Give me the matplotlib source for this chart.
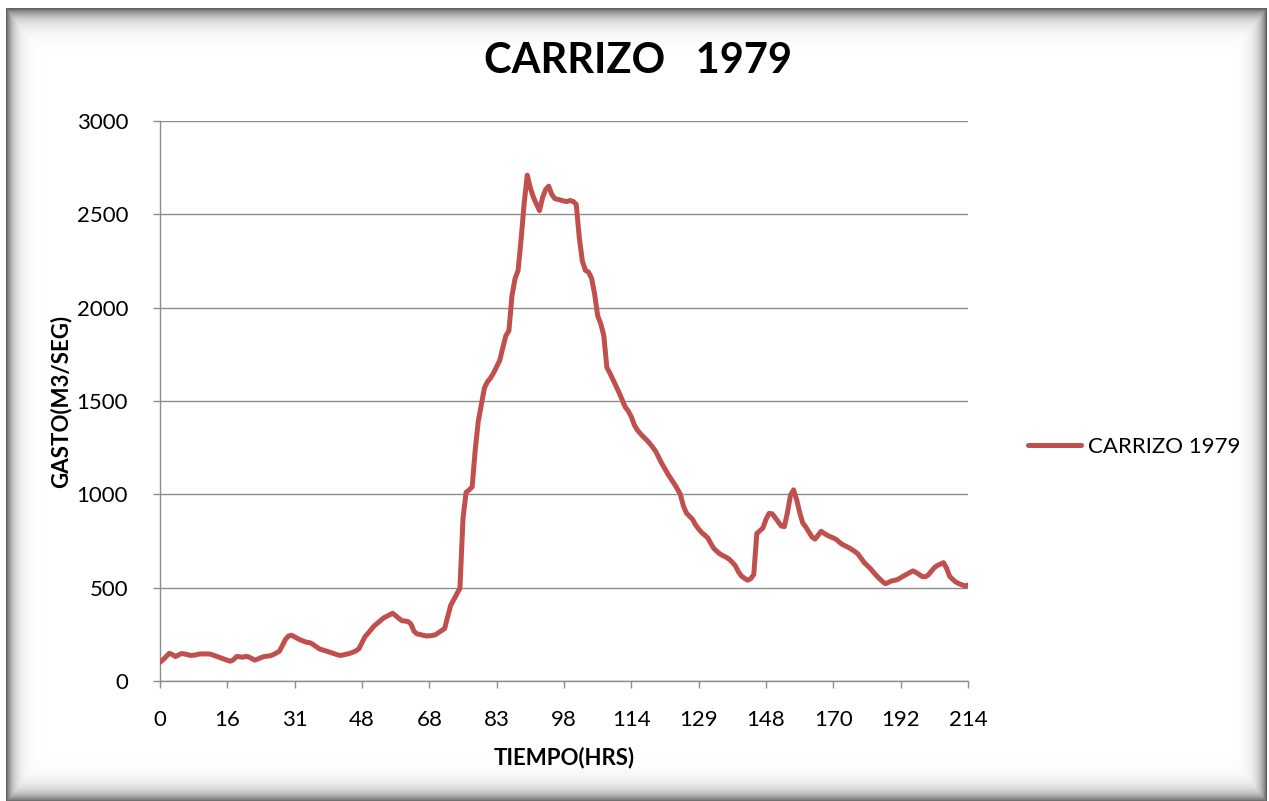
import numpy as np
import matplotlib
matplotlib.use('Agg')
import matplotlib.pyplot as plt

# Datos (gasto en m3/s por cada registro de tiempo)
etiquetas_tiempo = ['0', '16', '31', '48', '68', '83', '98', '114', '129',
                    '148', '170', '192', '214']
paso_etiqueta = 22  # cada etiqueta cubre 22 registros

gasto = [
    100, 114, 131, 148, 142, 131, 139, 147, 145, 141,
    137, 138, 141, 145, 145, 145, 145, 141, 135, 129,
    123, 117, 111, 106, 114, 131, 130, 127, 132, 129,
    120, 112, 118, 125, 131, 133, 135, 141, 150, 159,
    190, 223, 241, 245, 236, 227, 219, 213, 207, 205,
    196, 184, 173, 167, 162, 157, 151, 146, 140, 137,
    140, 144, 148, 154, 161, 173, 205, 238, 256, 276,
    296, 309, 323, 337, 346, 354, 363, 350, 336, 323,
    321, 319, 305, 266, 252, 249, 245, 241, 242, 244,
    248, 259, 270, 281, 345, 406, 436, 466, 497, 870,
    1010, 1024, 1040, 1240, 1392, 1481, 1570, 1603, 1623, 1651,
    1684, 1717, 1785, 1850, 1876, 2064, 2155, 2199, 2369, 2562,
    2710, 2642, 2592, 2555, 2520, 2590, 2633, 2651, 2607, 2584,
    2580, 2576, 2571, 2569, 2574, 2569, 2553, 2374, 2249, 2200,
    2191, 2158, 2074, 1957, 1915, 1851, 1680, 1649, 1615, 1580,
    1545, 1507, 1468, 1446, 1415, 1371, 1344, 1324, 1307, 1291,
    1273, 1252, 1229, 1196, 1164, 1135, 1107, 1082, 1057, 1030,
    1000, 938, 900, 883, 866, 836, 814, 795, 781, 766,
    736, 709, 694, 680, 671, 663, 652, 636, 617, 585,
    562, 550, 540, 548, 570, 790, 805, 820, 866, 898,
    896, 875, 852, 830, 827, 902, 995, 1024, 972, 903,
    847, 825, 799, 772, 760, 780, 802, 791, 781, 773,
    766, 758, 743, 731, 723, 715, 705, 694, 681, 659,
    636, 620, 604, 585, 566, 549, 534, 521, 528, 536,
    539, 544, 553, 563, 572, 581, 590, 582, 571, 560,
    558, 568, 588, 607, 619, 626, 634, 604, 561, 545,
    530, 522, 515, 509, 514,
]

FUENTE = ['Lato', 'DejaVu Sans']
plt.rcParams['font.family'] = FUENTE

W, H = 1269, 801
fig = plt.figure(figsize=(W / 100, H / 100), dpi=100)
fig.patch.set_facecolor('white')

# --- marco con sombra interior (estilo Excel) ---
bg = fig.add_axes([0, 0, 1, 1], zorder=-10)
yy, xx = np.mgrid[0:H, 0:W]
x0, x1, y0, y1 = 6, 1266, 8, 801
sombra = np.maximum.reduce([
    np.exp(-np.clip(xx - x0, 0, None) / 7.0),
    np.exp(-np.clip(x1 - xx, 0, None) / 7.0),
    np.exp(-np.clip(yy - y0, 0, None) / 9.0),
    np.exp(-np.clip(y1 - yy, 0, None) / 9.0),
])
gris = 1.0 - 0.62 * sombra
fuera = (xx < x0) | (xx > x1) | (yy < y0) | (yy > y1)
gris[fuera] = 1.0
bg.imshow(gris, cmap='gray', vmin=0, vmax=1, aspect='auto',
          interpolation='bilinear')
bg.axis('off')

# --- area de grafico ---
ax = fig.add_axes([160 / W, (H - 681) / H, 808 / W, 560 / H])
ax.set_facecolor('none')

x = np.arange(len(gasto))
ax.plot(x, gasto, color='#C0504D', lw=3.6, solid_joinstyle='round',
        solid_capstyle='round', label='CARRIZO 1979', zorder=3)

ax.set_xlim(0, len(gasto) - 1)
ax.set_ylim(0, 3000)
ax.set_yticks(np.arange(0, 3001, 500))
ax.set_xticks(np.arange(len(etiquetas_tiempo)) * paso_etiqueta)
ax.set_xticklabels(etiquetas_tiempo)

ax.grid(axis='y', color='#8C8C8C', lw=1.0)
ax.set_axisbelow(True)
for s in ['top', 'right']:
    ax.spines[s].set_visible(False)
for s in ['left', 'bottom']:
    ax.spines[s].set_color('#8C8C8C')
    ax.spines[s].set_linewidth(1.0)
ax.tick_params(axis='both', colors='#8C8C8C', labelcolor='black',
               labelsize=16, length=5, width=1, direction='out')
ax.tick_params(axis='x', pad=16)
ax.tick_params(axis='y', pad=18)

ax.set_ylabel('GASTO(M3/SEG)', fontsize=16, fontweight='bold', labelpad=4)
ax.set_xlabel('TIEMPO(HRS)', fontsize=16, fontweight='bold', labelpad=12)

fig.text(638 / W, 1 - 61 / H, 'CARRIZO   1979', ha='center', va='center',
         fontsize=30, fontweight='bold')

ax.legend(loc='center left', bbox_to_anchor=(1.074, 0.418), frameon=False,
          fontsize=16, handlelength=2.4, handletextpad=0.3,
          borderpad=0, borderaxespad=0)

fig.savefig('out.png', dpi=100)
